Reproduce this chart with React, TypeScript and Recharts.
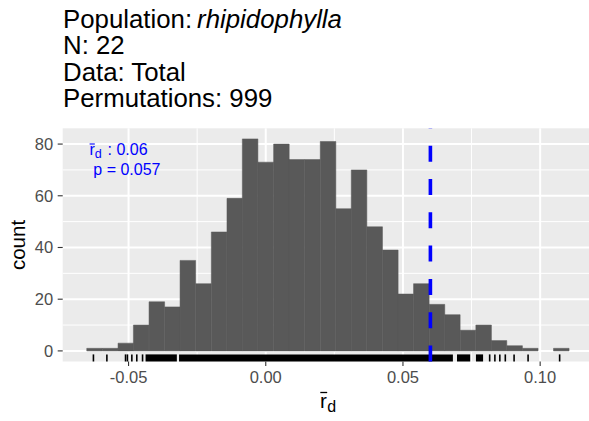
import React from 'react';
import { ComposedChart, XAxis, YAxis, CartesianGrid, ReferenceArea, ReferenceLine, Line } from 'recharts';

// Histogram of permuted r̄d values (bin centres and counts)
const binCenters = [
  -0.0624, -0.0567, -0.0510, -0.0454, -0.0397, -0.0340, -0.0284, -0.0227, -0.0170, -0.0113,
  -0.0057, 0.0000, 0.0057, 0.0113, 0.0170, 0.0227, 0.0284, 0.0340, 0.0397, 0.0454,
  0.0510, 0.0567, 0.0624, 0.0680, 0.0737, 0.0794, 0.0850, 0.0907, 0.0964, 0.1020, 0.1077,
];
const binCounts = [
  1, 1, 3, 10, 19, 17, 35, 26, 46, 59,
  82, 73, 80, 74, 74, 81, 55, 70, 48, 39,
  22, 26, 18, 14, 8, 10, 4, 2, 1, 0, 1,
];
const BIN_WIDTH = 0.00567;

// Observed statistic
const observedRd = 0.06;
const observedLabel = '0.06';
const pValueLabel = '0.057';

// Rug: isolated ticks in the tails, and dense runs of ticks
const rugTicks = [
  -0.0628, -0.0579, -0.0511, -0.0504, -0.0488, -0.0470, -0.0449,
  0.0816, 0.0835, 0.0853, 0.0873, 0.0905, 0.0956, 0.1071,
];
const rugBands: [number, number][] = [
  [-0.0438, -0.0324],
  [-0.0316, 0.0682],
  [0.0697, 0.0745],
  [0.0766, 0.0792],
];

const xTicks = [-0.05, 0, 0.05, 0.1];
const xMinor = [-0.025, 0.025, 0.075];
const yTicks = [0, 20, 40, 60, 80];
const yMinor = [10, 30, 50, 70];

const titleLines = ['N: 22', 'Data: Total', 'Permutations: 999'];
const populationName = 'rhipidophylla';

const X_DOMAIN: [number, number] = [-0.074, 0.1178];
const Y_DOMAIN: [number, number] = [-4.1, 86.1];
const RUG_TOP = -1.35;

const FONT = '"Liberation Sans", Arial, Helvetica, sans-serif';

const data = binCenters.map((x, i) => ({ x, count: binCounts[i] }));

export default function App() {
  return (
    <div style={{ position: 'absolute', left: 0, top: 0, width: 589, height: 421, background: '#fff', fontFamily: FONT }}>
      <ComposedChart
        width={589}
        height={421}
        data={data}
        margin={{ top: 128.3, right: 0, bottom: 29.5, left: 0 }}
      >
        <CartesianGrid
          fill="#EBEBEB"
          fillOpacity={1}
          stroke="#FFFFFF"
          strokeWidth={1}
          horizontalValues={yMinor}
          verticalValues={xMinor}
        />
        <CartesianGrid
          stroke="#FFFFFF"
          strokeWidth={2}
          horizontalValues={yTicks}
          verticalValues={xTicks}
        />
        <XAxis
          type="number"
          dataKey="x"
          domain={X_DOMAIN}
          allowDataOverflow
          ticks={xTicks}
          tickFormatter={(v: number) => v.toFixed(2)}
          axisLine={false}
          tickLine={{ stroke: '#333333', strokeWidth: 1.1 }}
          tickSize={4.5}
          tickMargin={5.5}
          height={30}
          interval={0}
          tick={{ fill: '#4D4D4D', fontSize: 16.5, fontFamily: FONT }}
        />
        <YAxis
          type="number"
          domain={Y_DOMAIN}
          allowDataOverflow
          ticks={yTicks}
          axisLine={false}
          tickLine={{ stroke: '#333333', strokeWidth: 1.1 }}
          tickSize={5}
          tickMargin={4.5}
          width={62.7}
          interval={0}
          tick={{ fill: '#4D4D4D', fontSize: 16.5, fontFamily: FONT }}
        />
        {binCenters.map((c, i) =>
          binCounts[i] > 0 ? (
            <ReferenceArea
              key={'bin' + i}
              x1={c - BIN_WIDTH / 2}
              x2={c + BIN_WIDTH / 2}
              y1={0}
              y2={binCounts[i]}
              fill="#595959"
              fillOpacity={1}
              stroke="#595959"
              strokeWidth={0.5}
              ifOverflow="visible"
            />
          ) : null
        )}
        {rugBands.map(([a, b], i) => (
          <ReferenceArea
            key={'band' + i}
            x1={a}
            x2={b}
            y1={Y_DOMAIN[0]}
            y2={RUG_TOP}
            fill="#000000"
            fillOpacity={1}
            stroke="none"
            ifOverflow="visible"
          />
        ))}
        {rugTicks.map((v, i) => (
          <ReferenceLine
            key={'rug' + i}
            segment={[{ x: v, y: Y_DOMAIN[0] }, { x: v, y: RUG_TOP }]}
            stroke="#000000"
            strokeWidth={1.6}
            ifOverflow="visible"
          />
        ))}
        <ReferenceLine
          x={observedRd}
          stroke="#0000FF"
          strokeWidth={3.6}
          strokeDasharray="16 17.3"
          ifOverflow="visible"
        />
        <Line dataKey="count" stroke="none" dot={false} activeDot={false} isAnimationActive={false} legendType="none" />
      </ComposedChart>
      <svg
        width={589}
        height={421}
        style={{ position: 'absolute', left: 0, top: 0, pointerEvents: 'none' }}
        fontFamily={FONT}
      >
        <text x={63} y={28} fontSize={25.8} fill="#000">
          Population:<tspan dx={5} fontStyle="italic">{populationName}</tspan>
        </text>
        {titleLines.map((t, i) => (
          <text key={t} x={63} y={28 + 26.3 * (i + 1)} fontSize={25.8} fill="#000">
            {t}
          </text>
        ))}
        <text
          transform="translate(25.3,245) rotate(-90)"
          textAnchor="middle"
          fontSize={20.5}
          fill="#000"
        >
          count
        </text>
        {/* x-axis title: r-bar subscript d */}
        <text x={320} y={408.3} fontSize={20.5} fill="#000">r</text>
        <line x1={320.3} x2={327.2} y1={392.5} y2={392.5} stroke="#000" strokeWidth={1.3} />
        <text x={327.3} y={411.8} fontSize={16} fill="#000">d</text>
        {/* annotation */}
        <text x={89.5} y={155} fontSize={16} fill="#0000FF">r</text>
        <line x1={89.6} x2={94.8} y1={144} y2={144} stroke="#0000FF" strokeWidth={1.1} />
        <text x={94.8} y={158} fontSize={12.5} fill="#0000FF">d</text>
        <text x={107.5} y={155} fontSize={16} fill="#0000FF">: {observedLabel}</text>
        <text x={93.3} y={175} fontSize={16} fill="#0000FF">p = {pValueLabel}</text>
      </svg>
    </div>
  );
}
